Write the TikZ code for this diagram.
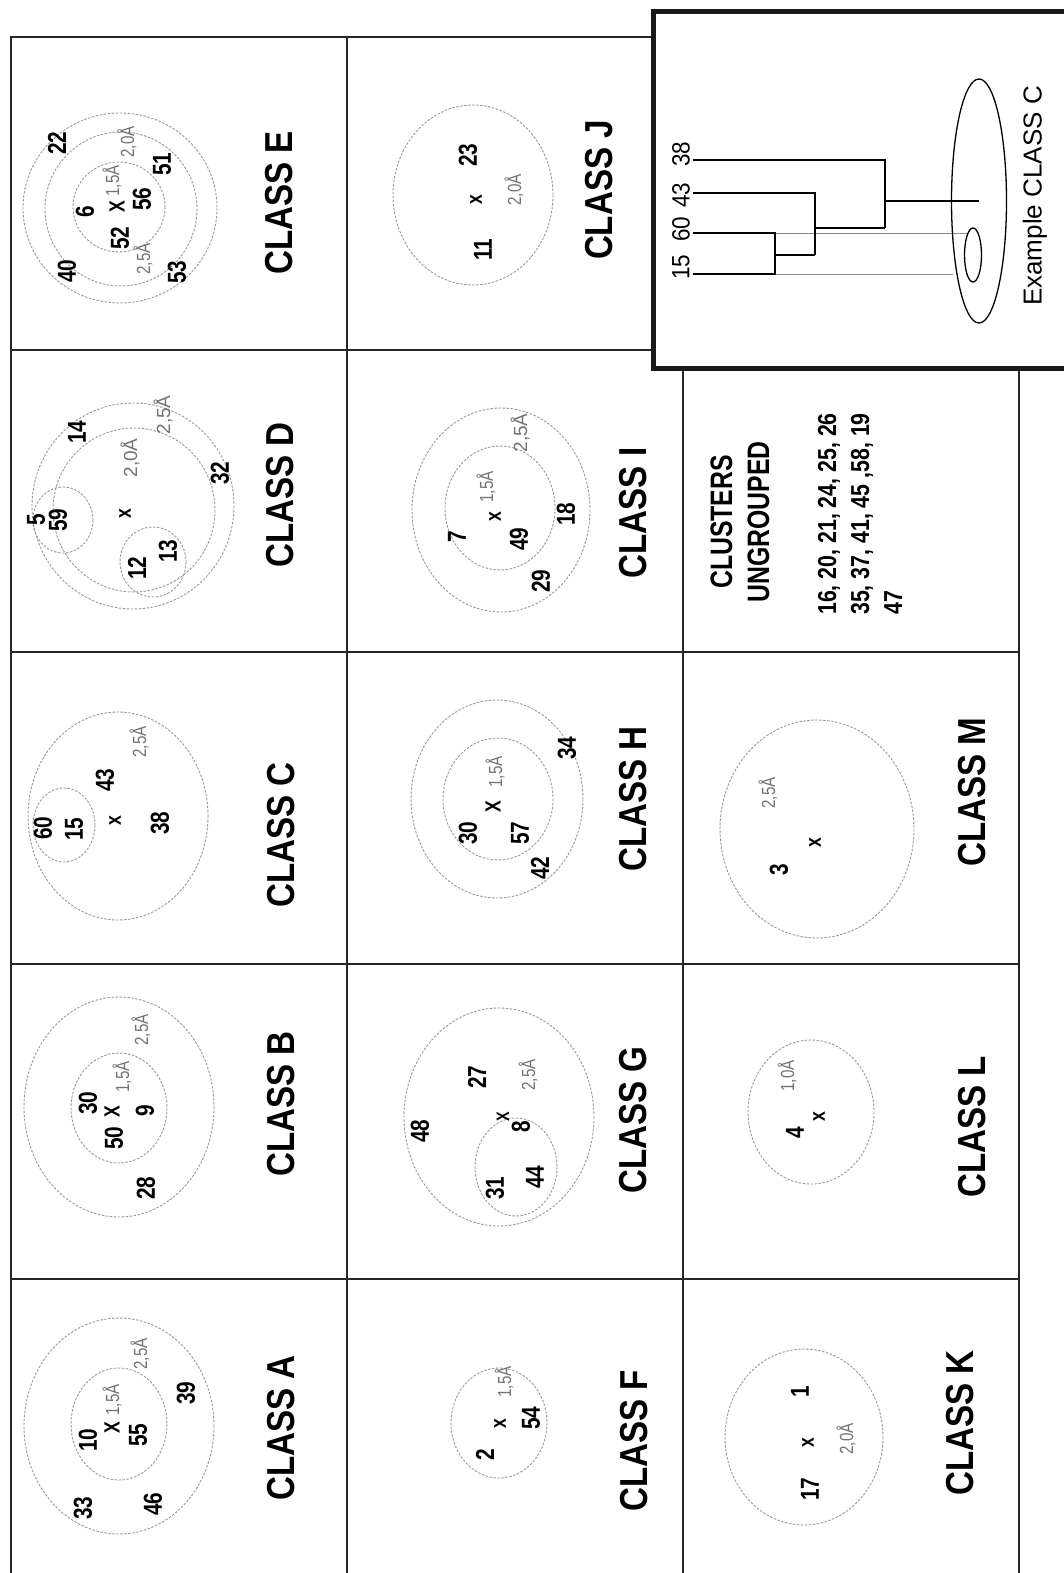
\documentclass[tikz,border=0pt]{standalone}
\usepackage{fontspec}
\setmainfont{Liberation Sans}
\newcommand\cnd[1]{\scalebox{0.8}[1]{#1}}
\newcommand\cls[1]{\scalebox{0.85}[1]{#1}}
\newcommand\dnd[1]{\scalebox{0.9}[1]{#1}}
\begin{document}
\begin{tikzpicture}[x=1pt,y=-1pt,
 tbl/.style={line width=2.2pt, black!85},
 ring/.style={black!40, line width=0.9pt, dash pattern=on 2.5pt off 1.5pt},
 numlbl/.style={rotate=90, inner sep=0pt, font=\fontsize{26}{28}\selectfont\bfseries},
 xmark/.style={rotate=90, inner sep=0pt, font=\fontsize{22}{24}\selectfont\bfseries},
 smallx/.style={rotate=90, inner sep=0pt, font=\fontsize{18}{20}\selectfont\bfseries},
 ang/.style={rotate=90, inner sep=0pt, text=black!55, font=\fontsize{19}{20}\selectfont},
 clslbl/.style={rotate=90, inner sep=0pt, font=\fontsize{39}{40}\selectfont\bfseries},
 dend/.style={line width=1.6pt, black},
 dthin/.style={line width=0.8pt, black!45},
 dlbl/.style={rotate=90, inner sep=0pt, font=\fontsize{25}{26}\selectfont},
]
\useasboundingbox (0,0) rectangle (1064,1573);
\fill[white] (0,0) rectangle (1064,1573);

% ---------- table ----------
\draw[tbl] (653,37) -- (11,37) -- (11,1580);
\draw[tbl] (347,37) -- (347,1580);
\draw[tbl] (11,350) -- (653,350);
\draw[tbl] (11,652) -- (1019,652);
\draw[tbl] (11,964) -- (1019,964);
\draw[tbl] (11,1279) -- (1019,1279);
\draw[tbl] (683,368) -- (683,1580);
\draw[tbl] (1019,368) -- (1019,1580);

% ---------- CLASS E ----------
\draw[ring] (120,208) ellipse [x radius=97, y radius=95];
\draw[ring] (121,209) ellipse [x radius=76, y radius=77];
\draw[ring] (119,207) ellipse [x radius=46, y radius=45];
\node[numlbl] (e22) at (57,143) {\cnd{22}};
\node[numlbl] (e40) at (67,271) {\cnd{40}};
\node[numlbl] (e6) at (85,212) {\cnd{6}};
\node[xmark] (ex) at (117,207) {\cnd{X}};
\node[numlbl] (e52) at (120,238) {\cnd{52}};
\node[numlbl] (e56) at (142,199) {\cnd{56}};
\node[numlbl] (e51) at (162,164) {\cnd{51}};
\node[numlbl] (e53) at (177,272) {\cnd{53}};
\node[ang] (ea1) at (112,181) {\cnd{1,5Å}};
\node[ang] (ea2) at (127,142) {\cnd{2,0Å}};
\node[ang] (ea3) at (143,259) {\cnd{2,5Å}};
\node[clslbl] (cE) at (279,203) {\cls{CLASS E}};

% ---------- CLASS D ----------
\draw[ring] (133,506) ellipse [x radius=101, y radius=103];
\draw[ring] (134,510) ellipse [x radius=81, y radius=82];
\draw[ring] (63,520) ellipse [x radius=30, y radius=33];
\draw[ring] (153,562) ellipse [x radius=33, y radius=35];
\node[numlbl] (d5) at (36,520) {\cnd{5}};
\node[numlbl] (d59) at (58,520) {\cnd{59}};
\node[numlbl] (d14) at (77,432) {\cnd{14}};
\node[xmark] (dx) at (125,514) {\cnd{x}};
\node[ang] (da1) at (130,458) {2,0Å};
\node[ang] (da2) at (163,415) {2,5Å};
\node[numlbl] (d32) at (220,473) {\cnd{32}};
\node[numlbl] (d12) at (137,568) {\cnd{12}};
\node[numlbl] (d13) at (168,551) {\cnd{13}};
\node[clslbl] (cD) at (280,495) {\cls{CLASS D}};

% ---------- CLASS C ----------
\draw[ring] (118,816) ellipse [x radius=90, y radius=104];
\draw[ring] (64,825) ellipse [x radius=31, y radius=37];
\node[numlbl] (c60) at (43,828) {\cnd{60}};
\node[numlbl] (c15) at (74,829) {\cnd{15}};
\node[xmark] (cx) at (115,821) {\cnd{x}};
\node[numlbl] (c43) at (105,780) {\cnd{43}};
\node[numlbl] (c38) at (160,823) {\cnd{38}};
\node[ang] (ca1) at (139,742) {\cnd{2,5Å}};
\node[clslbl] (cC) at (281,835) {\cls{CLASS C}};

% ---------- CLASS B ----------
\draw[ring] (119,1107) ellipse [x radius=95, y radius=110];
\draw[ring] (119,1108) ellipse [x radius=48, y radius=55];
\node[numlbl] (b30) at (88,1103) {\cnd{30}};
\node[xmark] (bx) at (112,1112) {\cnd{X}};
\node[numlbl] (b50) at (114,1138) {\cnd{50}};
\node[ang] (ba1) at (122,1077) {\cnd{1,5Å}};
\node[numlbl] (b9) at (145,1111) {\cnd{9}};
\node[ang] (ba2) at (141,1030) {\cnd{2,5Å}};
\node[numlbl] (b28) at (146,1188) {\cnd{28}};
\node[clslbl] (cB) at (281,1104) {\cls{CLASS B}};

% ---------- CLASS A ----------
\draw[ring] (119,1426) ellipse [x radius=95, y radius=108];
\draw[ring] (119,1424) ellipse [x radius=48, y radius=56];
\node[numlbl] (a10) at (88,1440) {\cnd{10}};
\node[xmark] (ax) at (112,1428) {\cnd{X}};
\node[ang] (aa1) at (112,1400) {\cnd{1,5Å}};
\node[numlbl] (a55) at (138,1435) {\cnd{55}};
\node[ang] (aa2) at (140,1354) {\cnd{2,5Å}};
\node[numlbl] (a39) at (186,1393) {\cnd{39}};
\node[numlbl] (a33) at (83,1508) {\cnd{33}};
\node[numlbl] (a46) at (153,1504) {\cnd{46}};
\node[clslbl] (cA) at (281,1428) {\cls{CLASS A}};

% ---------- CLASS J ----------
\draw[ring] (473,195) ellipse [x radius=80, y radius=90];
\node[xmark] (jx) at (476,200) {\cnd{x}};
\node[numlbl] (j23) at (468,155) {\cnd{23}};
\node[ang] (ja1) at (514,190) {\cnd{2,0Å}};
\node[numlbl] (j11) at (483,250) {\cnd{11}};
\node[clslbl] (cJ) at (599,190) {\cls{CLASS J}};

% ---------- CLASS I ----------
\draw[ring] (501,510) ellipse [x radius=89, y radius=102];
\draw[ring] (500,508) ellipse [x radius=55, y radius=62];
\node[numlbl] (i7) at (457,537) {\cnd{7}};
\node[xmark] (ix) at (495,517) {\cnd{x}};
\node[ang] (ia1) at (486,487) {\cnd{1,5Å}};
\node[numlbl] (i49) at (519,539) {\cnd{49}};
\node[numlbl] (i18) at (566,514) {\cnd{18}};
\node[numlbl] (i29) at (541,581) {\cnd{29}};
\node[ang] (ia2) at (520,433) {2,5Å};
\node[clslbl] (cI) at (633,513) {\cls{CLASS I}};

% ---------- CLASS H ----------
\draw[ring] (497,799) ellipse [x radius=86, y radius=99];
\draw[ring] (498,799) ellipse [x radius=55, y radius=61];
\node[xmark] (hx) at (493,807) {\cnd{X}};
\node[ang] (ha1) at (495,772) {\cnd{1,5Å}};
\node[numlbl] (h30) at (468,833) {\cnd{30}};
\node[numlbl] (h57) at (520,833) {\cnd{57}};
\node[numlbl] (h42) at (540,868) {\cnd{42}};
\node[numlbl] (h34) at (567,748) {\cnd{34}};
\node[clslbl] (cH) at (633,799) {\cls{CLASS H}};

% ---------- CLASS G ----------
\draw[ring] (499,1117) ellipse [x radius=95, y radius=109];
\draw[ring] (516,1167) ellipse [x radius=41, y radius=49];
\node[numlbl] (g48) at (420,1131) {\cnd{48}};
\node[numlbl] (g27) at (477,1077) {\cnd{27}};
\node[smallx] (gx) at (503,1117) {\cnd{X}};
\node[numlbl] (g8) at (521,1127) {\cnd{8}};
\node[ang] (ga1) at (528,1075) {\cnd{2,5Å}};
\node[numlbl] (g31) at (495,1188) {\cnd{31}};
\node[numlbl] (g44) at (535,1177) {\cnd{44}};
\node[clslbl] (cG) at (633,1120) {\cls{CLASS G}};

% ---------- CLASS F ----------
\draw[ring] (499,1423) ellipse [x radius=48, y radius=55];
\node[numlbl] (f2) at (485,1455) {\cnd{2}};
\node[xmark] (fx) at (500,1424) {\cnd{x}};
\node[ang] (fa1) at (504,1382) {\cnd{1,5Å}};
\node[numlbl] (f54) at (531,1418) {\cnd{54}};
\node[clslbl] (cF) at (634,1441) {\cls{CLASS F}};

% ---------- ungrouped ----------
\node[rotate=90, inner sep=0pt, align=center, font=\fontsize{31}{37}\selectfont\bfseries] (ung) at (740,522)
  {\scalebox{0.8}[1]{CLUSTERS}\\\scalebox{0.8}[1]{UNGROUPED}};
\node[rotate=90, inner sep=0pt, align=left, font=\fontsize{26}{33}\selectfont\bfseries] (unglist) at (860,514)
  {\scalebox{0.82}[1]{16, 20, 21, 24, 25, 26}\\\scalebox{0.82}[1]{35, 37, 41, 45 ,58, 19}\\\scalebox{0.82}[1]{47}};

% ---------- CLASS M ----------
\draw[ring] (817,829) ellipse [x radius=97, y radius=109];
\node[ang] (ma1) at (768,793) {\cnd{2,5Å}};
\node[xmark] (mx) at (815,843) {\cnd{x}};
\node[numlbl] (m3) at (779,870) {\cnd{3}};
\node[clslbl] (cM) at (972,792) {\cls{CLASS M}};

% ---------- CLASS L ----------
\draw[ring] (811,1112) ellipse [x radius=63, y radius=72];
\node[ang] (la1) at (787,1076) {\cnd{1,0Å}};
\node[xmark] (lx) at (819,1117) {\cnd{x}};
\node[numlbl] (l4) at (795,1133) {\cnd{4}};
\node[clslbl] (cL) at (972,1127) {\cls{CLASS L}};

% ---------- CLASS K ----------
\draw[ring] (804,1437) ellipse [x radius=79, y radius=88];
\node[numlbl] (k1) at (800,1392) {\cnd{1}};
\node[xmark] (kx) at (808,1443) {\cnd{x}};
\node[ang] (ka1) at (846,1439) {\cnd{2,0Å}};
\node[numlbl] (k17) at (810,1489) {\cnd{17}};
\node[clslbl] (cK) at (960,1423) {\cls{CLASS K}};

% ---------- example box ----------
\draw[line width=5pt, black!90] (653,12) rectangle (1075,368);
\node[dlbl] (t38) at (681,154) {\dnd{38}};
\node[dlbl] (t43) at (681,195) {\dnd{43}};
\node[dlbl] (t60) at (681,229) {\dnd{60}};
\node[dlbl] (t15) at (681,267) {\dnd{15}};
\coordinate (l38) at (693,160);
\coordinate (l43) at (693,193);
\coordinate (l60) at (693,233);
\coordinate (l15) at (693,274);
\coordinate (m1) at (775,255);
\coordinate (m2) at (815,228);
\coordinate (m3c) at (885,201);
\coordinate (bigc) at (979,201);
\draw[dthin] (775,233) -- (968,233);
\draw[dthin] (775,274) -- (953,274);
\draw[dend] (l15) -- (775,274) -- (775,233) -- (l60);
\draw[dend] (m1) -- (815,255);
\draw[dend] (l43) -- (815,193) -- (815,255);
\draw[dend] (m2) -- (885,228);
\draw[dend] (l38) -- (885,160) -- (885,228);
\draw[dend] (m3c) -- (bigc);
\draw[line width=1.3pt] (bigc) ellipse [x radius=27.5, y radius=122];
\draw[line width=1.3pt] (973,255) ellipse [x radius=8.5, y radius=27];
\node[rotate=90, inner sep=0pt, font=\fontsize{26}{28}\selectfont] (exlbl) at (1035,196) {Example CLASS C};
\end{tikzpicture}
\end{document}
